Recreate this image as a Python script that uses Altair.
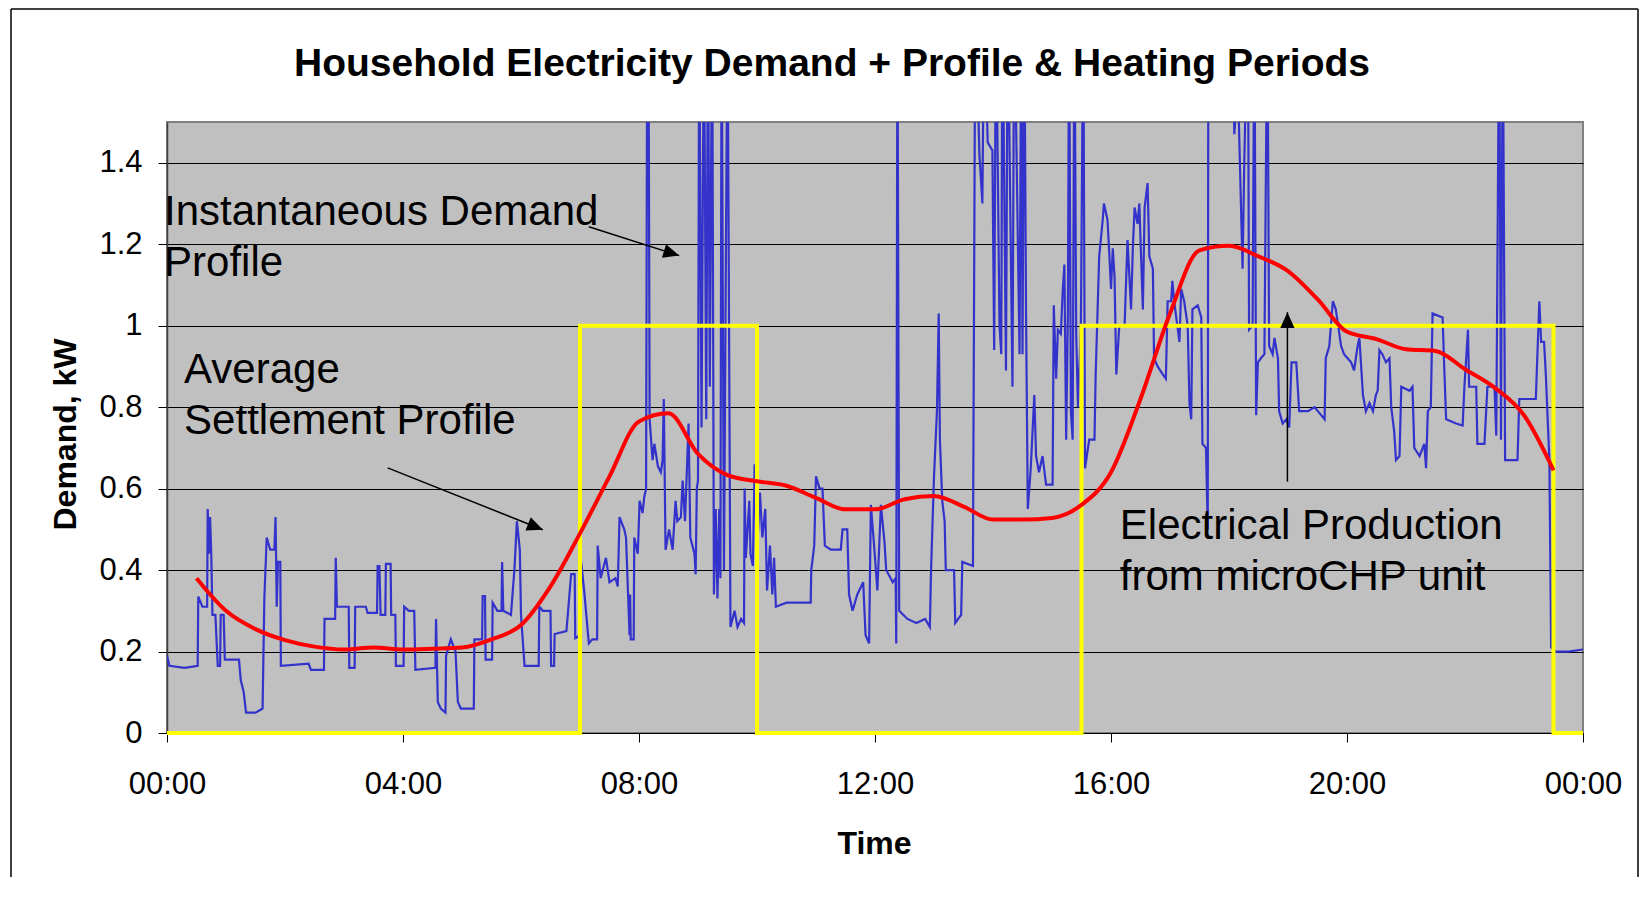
import altair as alt
import pandas as pd

FONT = "Liberation Sans"

title_text = "Household Electricity Demand + Profile & Heating Periods"
x_tick_hours = [0, 4, 8, 12, 16, 20, 24]
y_tick_kw = [0, 0.2, 0.4, 0.6, 0.8, 1.0, 1.2, 1.4]

# Instantaneous demand (hour of day, kW)
blue_samples = [
    (0.00, 0.19), (0.04, 0.165), (0.30, 0.16), (0.52, 0.165), (0.53, 0.335), (0.60, 0.31),
    (0.68, 0.31), (0.69, 0.55), (0.71, 0.44), (0.73, 0.53), (0.75, 0.44), (0.77, 0.29),
    (0.82, 0.29), (0.86, 0.165), (0.90, 0.165), (0.91, 0.29), (0.96, 0.29), (0.98, 0.18),
    (1.22, 0.18), (1.25, 0.13), (1.30, 0.10), (1.34, 0.05), (1.50, 0.05), (1.62, 0.06),
    (1.65, 0.33), (1.69, 0.48), (1.75, 0.45), (1.82, 0.45), (1.84, 0.53), (1.86, 0.31),
    (1.88, 0.42), (1.92, 0.42), (1.93, 0.165), (2.40, 0.17), (2.44, 0.155), (2.66, 0.155),
    (2.67, 0.28), (2.85, 0.28), (2.86, 0.43), (2.88, 0.31), (3.08, 0.31), (3.09, 0.16),
    (3.18, 0.16), (3.19, 0.31), (3.37, 0.31), (3.40, 0.295), (3.56, 0.295), (3.57, 0.41),
    (3.60, 0.41), (3.62, 0.29), (3.70, 0.29), (3.71, 0.415), (3.79, 0.415), (3.80, 0.29),
    (3.87, 0.29), (3.88, 0.165), (4.01, 0.165), (4.02, 0.31), (4.10, 0.30), (4.19, 0.30),
    (4.21, 0.155), (4.55, 0.16), (4.56, 0.28), (4.59, 0.076), (4.64, 0.06), (4.72, 0.05),
    (4.73, 0.19), (4.81, 0.23), (4.89, 0.20), (4.93, 0.076), (4.98, 0.06), (5.20, 0.06),
    (5.21, 0.23), (5.34, 0.23), (5.35, 0.336), (5.39, 0.336), (5.40, 0.18), (5.51, 0.18),
    (5.52, 0.32), (5.60, 0.30), (5.67, 0.30), (5.68, 0.42), (5.70, 0.30), (5.83, 0.29),
    (5.89, 0.405), (5.93, 0.52), (5.98, 0.45), (6.00, 0.29), (6.06, 0.165), (6.30, 0.165),
    (6.31, 0.31), (6.37, 0.30), (6.50, 0.30), (6.51, 0.165), (6.56, 0.165), (6.57, 0.243),
    (6.77, 0.25), (6.85, 0.39), (6.91, 0.39), (6.92, 0.233), (7.01, 0.24), (7.02, 0.42),
    (7.07, 0.35), (7.15, 0.22), (7.21, 0.23), (7.29, 0.23), (7.30, 0.46), (7.35, 0.38),
    (7.44, 0.43), (7.50, 0.37), (7.60, 0.38), (7.64, 0.36), (7.67, 0.53), (7.75, 0.50),
    (7.78, 0.48), (7.84, 0.24), (7.85, 0.34), (7.86, 0.23), (7.91, 0.23), (7.92, 0.48),
    (7.98, 0.44), (8.01, 0.57), (8.06, 0.54), (8.09, 0.58), (8.12, 0.60), (8.14, 1.8),
    (8.16, 1.8), (8.18, 0.77), (8.23, 0.67), (8.26, 0.71), (8.32, 0.655), (8.37, 0.64),
    (8.40, 0.67), (8.42, 0.82), (8.45, 0.45), (8.51, 0.50), (8.57, 0.45), (8.62, 0.57),
    (8.65, 0.52), (8.71, 0.53), (8.74, 0.62), (8.78, 0.52), (8.84, 0.76), (8.87, 0.48),
    (8.94, 0.44), (8.96, 0.39), (8.98, 0.60), (9.00, 0.62), (9.02, 1.8), (9.06, 0.75),
    (9.10, 1.8), (9.14, 0.77), (9.17, 1.8), (9.20, 0.85), (9.24, 1.8), (9.27, 0.34),
    (9.30, 0.55), (9.33, 0.33), (9.36, 0.55), (9.38, 0.38), (9.40, 1.8), (9.44, 0.40),
    (9.50, 1.8), (9.53, 0.89), (9.55, 0.26), (9.62, 0.30), (9.67, 0.26), (9.73, 0.28),
    (9.78, 0.27), (9.79, 0.60), (9.81, 0.43), (9.87, 0.57), (9.89, 0.44), (9.93, 0.41),
    (9.96, 0.66), (10.00, 0.44), (10.05, 0.59), (10.09, 0.48), (10.14, 0.55), (10.17, 0.35),
    (10.22, 0.46), (10.26, 0.34), (10.29, 0.43), (10.32, 0.31), (10.50, 0.32), (10.70, 0.32),
    (10.91, 0.32), (10.92, 0.40), (10.97, 0.46), (11.00, 0.63), (11.06, 0.60), (11.11, 0.60),
    (11.15, 0.46), (11.25, 0.45), (11.42, 0.45), (11.45, 0.50), (11.53, 0.50), (11.56, 0.34),
    (11.62, 0.30), (11.70, 0.34), (11.80, 0.37), (11.84, 0.24), (11.90, 0.22), (11.93, 0.56),
    (11.99, 0.45), (12.04, 0.35), (12.10, 0.56), (12.16, 0.47), (12.19, 0.40), (12.30, 0.37),
    (12.35, 0.38), (12.36, 0.22), (12.38, 1.8), (12.41, 0.30), (12.55, 0.28), (12.70, 0.27),
    (12.85, 0.28), (12.93, 0.26), (12.95, 0.40), (13.00, 0.63), (13.05, 0.79), (13.08, 1.03),
    (13.10, 0.72), (13.14, 0.57), (13.18, 0.52), (13.20, 0.40), (13.34, 0.40), (13.36, 0.27),
    (13.46, 0.29), (13.48, 0.42), (13.66, 0.41), (13.70, 1.8), (13.77, 1.42), (13.82, 1.30),
    (13.85, 1.8), (13.91, 1.45), (13.99, 1.43), (14.02, 0.94), (14.05, 1.8), (14.11, 1.00),
    (14.14, 0.93), (14.16, 1.8), (14.22, 0.89), (14.25, 1.8), (14.33, 0.85), (14.36, 1.8),
    (14.45, 0.93), (14.48, 1.8), (14.50, 0.93), (14.53, 1.8), (14.56, 1.03), (14.59, 0.55),
    (14.64, 0.65), (14.70, 0.83), (14.73, 0.68), (14.78, 0.64), (14.84, 0.68), (14.90, 0.61),
    (15.01, 0.61), (15.03, 1.05), (15.07, 0.87), (15.10, 0.99), (15.15, 0.98), (15.18, 1.08),
    (15.21, 1.15), (15.24, 0.72), (15.27, 1.04), (15.29, 1.8), (15.32, 0.79), (15.35, 0.72),
    (15.38, 1.8), (15.41, 0.98), (15.44, 0.80), (15.49, 1.00), (15.53, 1.8), (15.56, 0.65),
    (15.63, 0.72), (15.72, 0.72), (15.74, 0.88), (15.80, 1.17), (15.86, 1.26), (15.88, 1.30),
    (15.94, 1.26), (15.97, 1.18), (16.00, 1.09), (16.03, 1.19), (16.06, 1.12), (16.09, 0.88),
    (16.14, 1.00), (16.23, 1.00), (16.28, 1.21), (16.34, 1.04), (16.37, 1.19), (16.40, 1.29),
    (16.45, 1.25), (16.48, 1.30), (16.54, 1.04), (16.57, 1.29), (16.62, 1.35), (16.65, 1.17),
    (16.71, 1.14), (16.73, 0.92), (16.79, 0.90), (16.88, 0.88), (16.93, 0.87), (16.96, 1.06),
    (17.02, 1.06), (17.04, 1.11), (17.07, 1.06), (17.16, 0.96), (17.19, 1.09), (17.24, 1.06),
    (17.30, 1.00), (17.33, 0.81), (17.36, 0.77), (17.38, 1.04), (17.47, 1.05), (17.53, 1.02),
    (17.55, 0.71), (17.61, 0.70), (17.64, 0.50), (17.65, 1.8), (17.90, 1.9), (18.06, 1.8),
    (18.09, 1.47), (18.15, 1.6), (18.23, 1.14), (18.26, 1.41), (18.32, 1.8), (18.34, 0.99),
    (18.40, 1.00), (18.43, 1.8), (18.46, 0.78), (18.49, 0.91), (18.54, 0.92), (18.60, 0.93),
    (18.65, 1.8), (18.68, 0.95), (18.74, 0.93), (18.77, 0.97), (18.83, 0.92), (18.85, 0.79),
    (18.91, 0.76), (18.97, 0.77), (19.02, 0.75), (19.06, 0.91), (19.14, 0.91), (19.19, 0.79),
    (19.34, 0.79), (19.45, 0.80), (19.62, 0.77), (19.64, 0.92), (19.70, 0.95), (19.76, 1.06),
    (19.81, 1.04), (19.90, 0.95), (19.95, 0.93), (20.01, 0.92), (20.07, 0.91), (20.12, 0.89),
    (20.18, 0.95), (20.21, 0.97), (20.27, 0.83), (20.32, 0.79), (20.38, 0.81), (20.44, 0.79),
    (20.49, 0.83), (20.52, 0.84), (20.55, 0.94), (20.60, 0.93), (20.66, 0.91), (20.72, 0.92),
    (20.75, 0.80), (20.80, 0.74), (20.83, 0.67), (20.89, 0.68), (20.92, 0.85), (21.06, 0.84),
    (21.11, 0.85), (21.14, 0.70), (21.23, 0.68), (21.31, 0.71), (21.34, 0.65), (21.37, 0.79),
    (21.42, 0.80), (21.45, 1.03), (21.62, 1.02), (21.65, 0.89), (21.68, 0.77), (21.85, 0.76),
    (21.96, 0.755), (21.99, 0.85), (22.05, 0.99), (22.07, 0.85), (22.19, 0.85), (22.21, 0.71),
    (22.33, 0.71), (22.38, 0.85), (22.50, 0.85), (22.53, 0.73), (22.58, 1.8), (22.61, 0.72),
    (22.64, 1.8), (22.68, 0.67), (22.89, 0.67), (22.92, 0.82), (23.20, 0.82), (23.26, 1.06),
    (23.29, 0.96), (23.34, 0.96), (23.37, 0.88), (23.43, 0.67), (23.46, 0.21), (23.54, 0.20),
    (23.75, 0.20), (24.00, 0.205),
]

# Average settlement profile (half-hourly)
settle_hours = [0.5, 1.0, 1.5, 2.0, 2.5, 3.0, 3.5, 4.0, 4.5, 5.0, 5.5, 6.0, 6.5, 7.0, 7.5, 8.0,
                8.5, 9.0, 9.5, 10.0, 10.5, 11.0, 11.5, 12.0, 12.5, 13.0, 13.5, 14.0, 14.5, 15.0,
                15.5, 16.0, 16.5, 17.0, 17.5, 18.0, 18.5, 19.0, 19.5, 20.0, 20.5, 21.0, 21.5,
                22.0, 22.5, 23.0, 23.5]
settle_kw = [0.38, 0.30, 0.255, 0.228, 0.212, 0.205, 0.21, 0.205, 0.207, 0.21, 0.23, 0.265,
             0.36, 0.49, 0.63, 0.765, 0.785, 0.685, 0.633, 0.618, 0.607, 0.577, 0.549, 0.549,
             0.574, 0.582, 0.556, 0.524, 0.524, 0.528, 0.56, 0.64, 0.82, 1.03, 1.185, 1.196,
             1.17, 1.134, 1.065, 0.985, 0.967, 0.942, 0.938, 0.893, 0.848, 0.78, 0.645]

# Heating periods (microCHP electrical production on/off)
heat_hours = [0, 7, 7, 10, 10, 15.5, 15.5, 23.5, 23.5, 24]
heat_kw = [0, 0, 1, 1, 0, 0, 1, 1, 0, 0]

note_text = ["Instantaneous Demand", "Profile", "Average", "Settlement Profile",
             "Electrical Production", "from microCHP unit"]
note_hours = [-0.05, -0.05, 0.29, 0.29, 16.15, 16.15]
note_kw = [1.246, 1.123, 0.860, 0.733, 0.477, 0.352]

arrow_from_h = [3.74, 7.15, 18.99]
arrow_from_kw = [0.651, 1.243, 0.617]
arrow_to_h = [6.37, 8.68, 18.99]
arrow_to_kw = [0.499, 1.172, 1.033]
arrow_angle = [111.8, 107.2, 0]

df_blue = pd.DataFrame({"h": [p[0] for p in blue_samples],
                        "kw": [p[1] for p in blue_samples],
                        "i": list(range(len(blue_samples)))})
df_red = pd.DataFrame({"h": settle_hours, "kw": settle_kw})
df_heat = pd.DataFrame({"h": heat_hours, "kw": heat_kw, "i": list(range(len(heat_hours)))})
df_notes = pd.DataFrame({"h": note_hours, "kw": note_kw, "t": note_text})
df_arrows = pd.DataFrame({"h": arrow_from_h, "kw": arrow_from_kw, "h2": arrow_to_h,
                          "kw2": arrow_to_kw, "a": arrow_angle})
one = pd.DataFrame({"t": [title_text]})

xs = alt.Scale(domain=[0, 24], nice=False, zero=False)
ys = alt.Scale(domain=[0, 1.5], nice=False)

x_axis = alt.Axis(
    values=x_tick_hours,
    labelExpr="(datum.value % 24 < 10 ? '0' : '') + (datum.value % 24) + ':00'",
    labelFontSize=31, labelPadding=27, labelFlush=False, labelOverlap=False,
    tickSize=9, tickColor="black", domainColor="black", grid=False,
    title="Time", titleFontSize=32, titleFontWeight="bold",
    titleX=707, titleY=120, titleAlign="center", titleBaseline="alphabetic",
)
y_axis = alt.Axis(
    values=y_tick_kw, format=".1~f",
    labelFontSize=31, labelPadding=16, labelOverlap=False,
    tickSize=9, tickColor="black", domainColor="#404040", domainWidth=1.5,
    grid=True, gridColor="black", gridWidth=1, gridOpacity=1,
    title="Demand, kW", titleFontSize=32, titleFontWeight="bold",
    titleX=-92, titleY=312, titleAngle=270, titleAlign="center", titleBaseline="alphabetic",
)

X = alt.X("h:Q", scale=xs, axis=x_axis)
Y = alt.Y("kw:Q", scale=ys, axis=y_axis)

blue = alt.Chart(df_blue).mark_line(color="#3333CC", strokeWidth=2.2, clip=True).encode(
    x=X, y=Y, order=alt.Order("i:Q"),
)
heat = alt.Chart(df_heat).mark_line(color="#FFFF00", strokeWidth=4).encode(
    x=X, y=Y, order=alt.Order("i:Q"),
)
red = alt.Chart(df_red).mark_line(color="#FF0000", strokeWidth=4, interpolate="monotone").encode(
    x=X, y=Y,
)
notes = alt.Chart(df_notes).mark_text(
    align="left", baseline="alphabetic", font=FONT, fontSize=42, color="black"
).encode(x=X, y=Y, text="t:N")
arrows = alt.Chart(df_arrows).mark_rule(color="black", strokeWidth=1.5).encode(
    x=X, y=Y, x2="h2:Q", y2="kw2:Q",
)
heads = alt.Chart(df_arrows).mark_point(
    shape="M0,0L-0.45,1L0.45,1Z", filled=True, size=1000, color="black", opacity=1, strokeWidth=0
).encode(
    x=alt.X("h2:Q", scale=xs, axis=x_axis),
    y=alt.Y("kw2:Q", scale=ys, axis=y_axis),
    angle=alt.Angle("a:Q", scale=None),
)
title_mark = alt.Chart(one).mark_text(
    align="center", baseline="alphabetic", font=FONT, fontSize=39, fontWeight="bold", color="black"
).encode(x=alt.value(665), y=alt.value(-46), text="t:N")

frame_left = alt.Chart(one).mark_rule(color="black", strokeWidth=1.5).encode(
    x=alt.value(-156), y=alt.value(-113), y2=alt.value(755))
frame_top = alt.Chart(one).mark_rule(color="black", strokeWidth=1.5).encode(
    x=alt.value(-156), x2=alt.value(1471), y=alt.value(-113))
frame_right = alt.Chart(one).mark_rule(color="black", strokeWidth=1.5).encode(
    x=alt.value(1471), y=alt.value(-113), y2=alt.value(755))

chart = alt.layer(
    blue, heat, red, notes, arrows, heads, title_mark, frame_left, frame_top, frame_right
).properties(
    width=1416, height=611,
    padding={"left": 2, "top": 0, "right": 2, "bottom": 2},
).configure_view(
    fill="#C0C0C0", stroke="#808080", strokeWidth=2,
).configure_axis(
    labelFont=FONT, titleFont=FONT, labelColor="black", titleColor="black",
)

chart.save("out.html", embed_options={"renderer": "svg", "actions": False})
